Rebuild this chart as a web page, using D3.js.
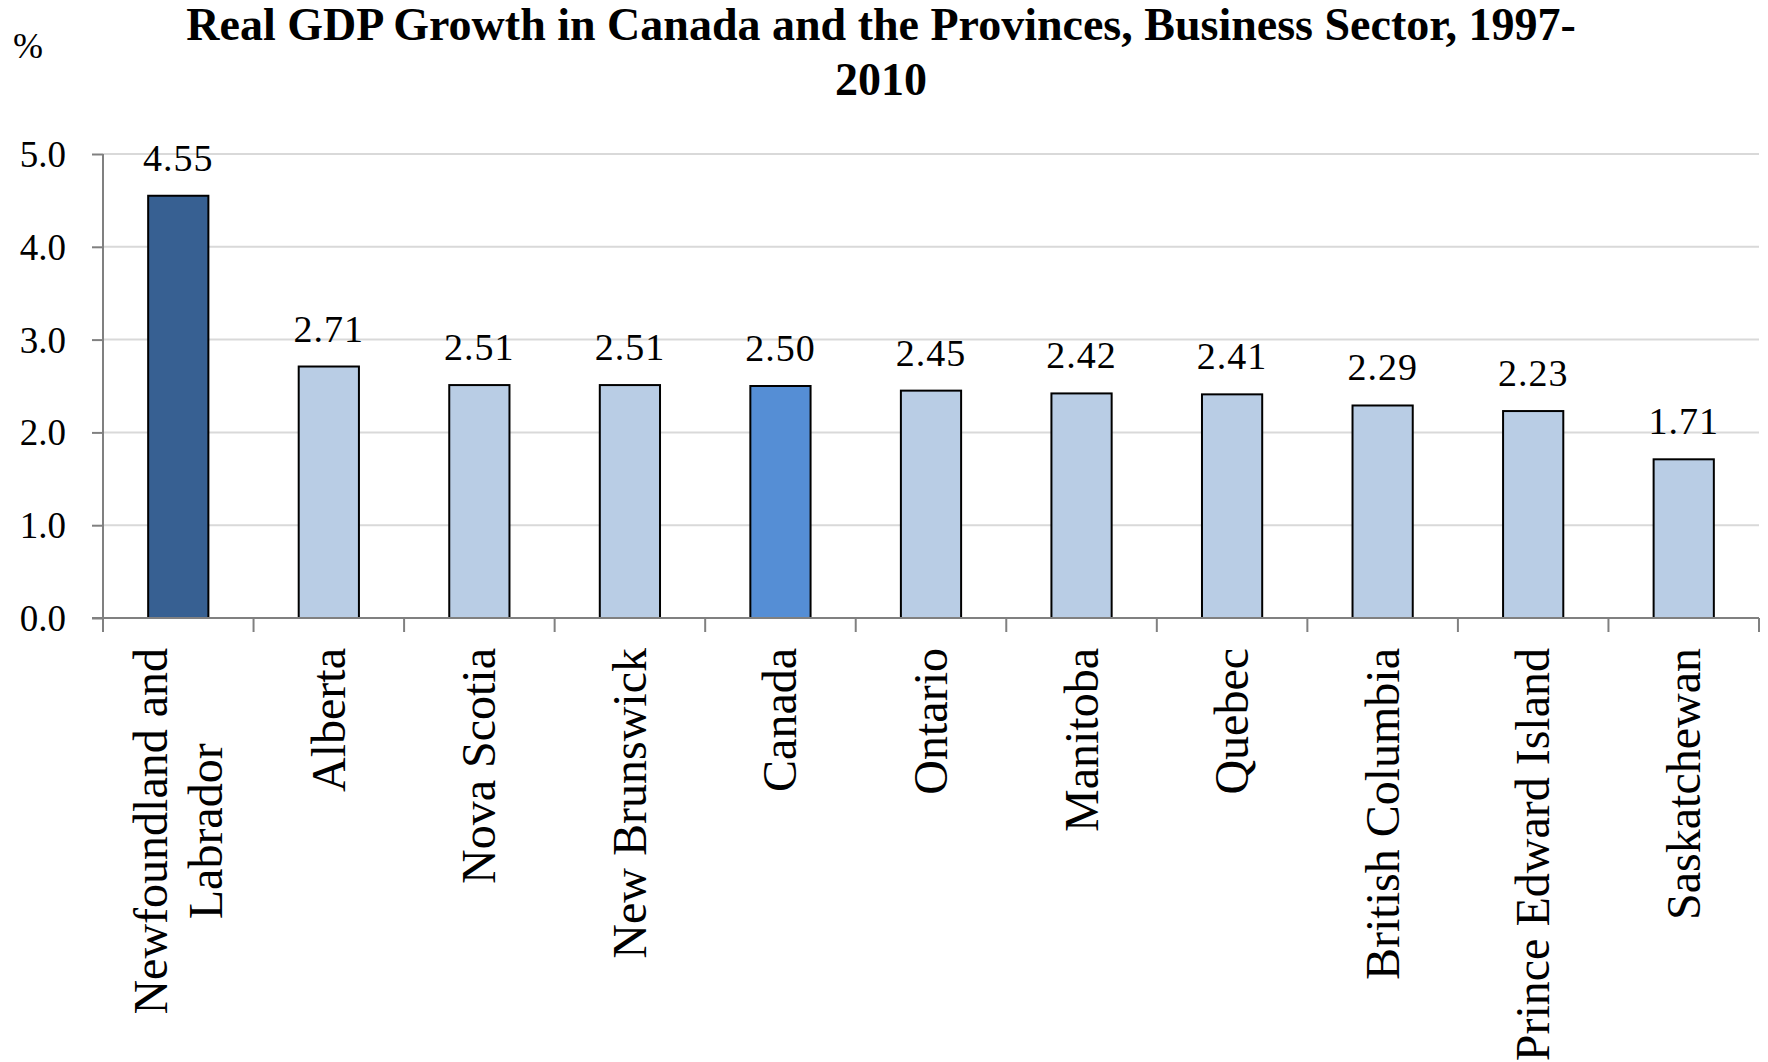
<!DOCTYPE html>
<html>
<head>
<meta charset="utf-8">
<script src="https://cdn.jsdelivr.net/npm/d3@7"></script>
<style>
  body { margin: 0; background: #fff; }
  svg { display: block; font-family: "Liberation Serif", "Times New Roman", serif; }
</style>
</head>
<body>
<div id="chart"></div>
<script>
// Chart data
const provinces = ['Newfoundland and|Labrador', 'Alberta', 'Nova Scotia', 'New Brunswick', 'Canada',
  'Ontario', 'Manitoba', 'Quebec', 'British Columbia', 'Prince Edward Island', 'Saskatchewan'];
const growth = [4.55, 2.71, 2.51, 2.51, 2.50, 2.45, 2.42, 2.41, 2.29, 2.23, 1.71];
const yTicks = [0, 1, 2, 3, 4, 5];
const titleLines = ['Real GDP Growth in Canada and the Provinces, Business Sector, 1997-', '2010'];

const width = 1768;
const height = 1062;
const plotLeft = 103, plotRight = 1759, plotTop = 154, plotBottom = 618;

const svg = d3.select('#chart')
  .append('svg')
  .attr('width', width)
  .attr('height', height);

const x = d3.scaleBand()
  .domain(provinces)
  .range([plotLeft, plotRight])
  .paddingInner(0.6)
  .paddingOuter(0.3);

const y = d3.scaleLinear()
  .domain([0, 5])
  .range([plotBottom, plotTop]);

function barColor(name) {
  if (name.startsWith('Newfoundland')) return '#376092';
  if (name === 'Canada') return '#558ed5';
  return '#b9cde5';
}

// Title
svg.append('g')
  .selectAll('text')
  .data(titleLines)
  .join('text')
  .attr('x', 881)
  .attr('y', (d, i) => 40 + i * 55)
  .attr('text-anchor', 'middle')
  .attr('font-size', '46px')
  .attr('font-weight', 'bold')
  .attr('fill', '#000')
  .text(d => d);

svg.append('text')
  .attr('x', 13)
  .attr('y', 58)
  .attr('font-size', '36px')
  .text('%');

// Gridlines
svg.append('g')
  .selectAll('line')
  .data(yTicks.filter(d => d > 0))
  .join('line')
  .attr('x1', plotLeft)
  .attr('x2', plotRight)
  .attr('y1', d => y(d))
  .attr('y2', d => y(d))
  .attr('stroke', '#d9d9d9')
  .attr('stroke-width', 2);

// Y axis
const yAxis = svg.append('g')
  .attr('transform', `translate(${plotLeft},0)`)
  .call(d3.axisLeft(y).tickValues(yTicks).tickFormat(d3.format('.1f')).tickSize(11).tickPadding(26));
yAxis.select('.domain').remove();
yAxis.selectAll('.tick line').attr('stroke', '#808080').attr('stroke-width', 2);
yAxis.selectAll('.tick text')
  .attr('font-family', '"Liberation Serif", serif')
  .attr('font-size', '37px')
  .attr('fill', '#000')
  .attr('dy', '0.34em');
svg.append('line')
  .attr('x1', plotLeft).attr('x2', plotLeft)
  .attr('y1', plotTop).attr('y2', plotBottom + 14)
  .attr('stroke', '#808080').attr('stroke-width', 2);

// Bars
svg.append('g')
  .selectAll('rect')
  .data(provinces)
  .join('rect')
  .attr('x', d => x(d))
  .attr('y', (d, i) => y(growth[i]))
  .attr('width', x.bandwidth())
  .attr('height', (d, i) => y(0) - y(growth[i]))
  .attr('fill', d => barColor(d))
  .attr('stroke', '#000')
  .attr('stroke-width', 2);

// Value labels
svg.append('g')
  .selectAll('text')
  .data(provinces)
  .join('text')
  .attr('x', d => x(d) + x.bandwidth() / 2)
  .attr('y', (d, i) => y(growth[i]) - 25)
  .attr('text-anchor', 'middle')
  .attr('font-size', '38px')
  .attr('letter-spacing', '1px')
  .text((d, i) => growth[i].toFixed(2));

// X axis line and category ticks
svg.append('line')
  .attr('x1', plotLeft - 11).attr('x2', plotRight)
  .attr('y1', plotBottom).attr('y2', plotBottom)
  .attr('stroke', '#808080').attr('stroke-width', 2);
const step = x.step();
svg.append('g')
  .selectAll('line')
  .data(d3.range(provinces.length + 1))
  .join('line')
  .attr('x1', i => plotLeft + i * step)
  .attr('x2', i => plotLeft + i * step)
  .attr('y1', plotBottom)
  .attr('y2', plotBottom + 14)
  .attr('stroke', '#808080')
  .attr('stroke-width', 2);

// Category labels (rotated, top-aligned under the axis)
const labelTop = 648;
const lineH = 55;
const labels = svg.append('g')
  .selectAll('g')
  .data(provinces)
  .join('g')
  .attr('transform', d => `translate(${x(d) + x.bandwidth() / 2},0) rotate(-90)`);

labels.each(function(d) {
  const lines = d.split('|');
  const t = d3.select(this).append('text')
    .attr('text-anchor', 'middle')
    .attr('font-size', '48px')
    .attr('fill', '#000');
  lines.forEach((ln, j) => {
    t.append('tspan')
      .attr('y', 16 + (j - (lines.length - 1) / 2) * lineH)
      .text(ln);
  });
  let maxLen = 0;
  t.selectAll('tspan').each(function() {
    maxLen = Math.max(maxLen, this.getComputedTextLength());
  });
  t.selectAll('tspan').attr('x', -(labelTop + maxLen / 2));
});
</script>
</body>
</html>
